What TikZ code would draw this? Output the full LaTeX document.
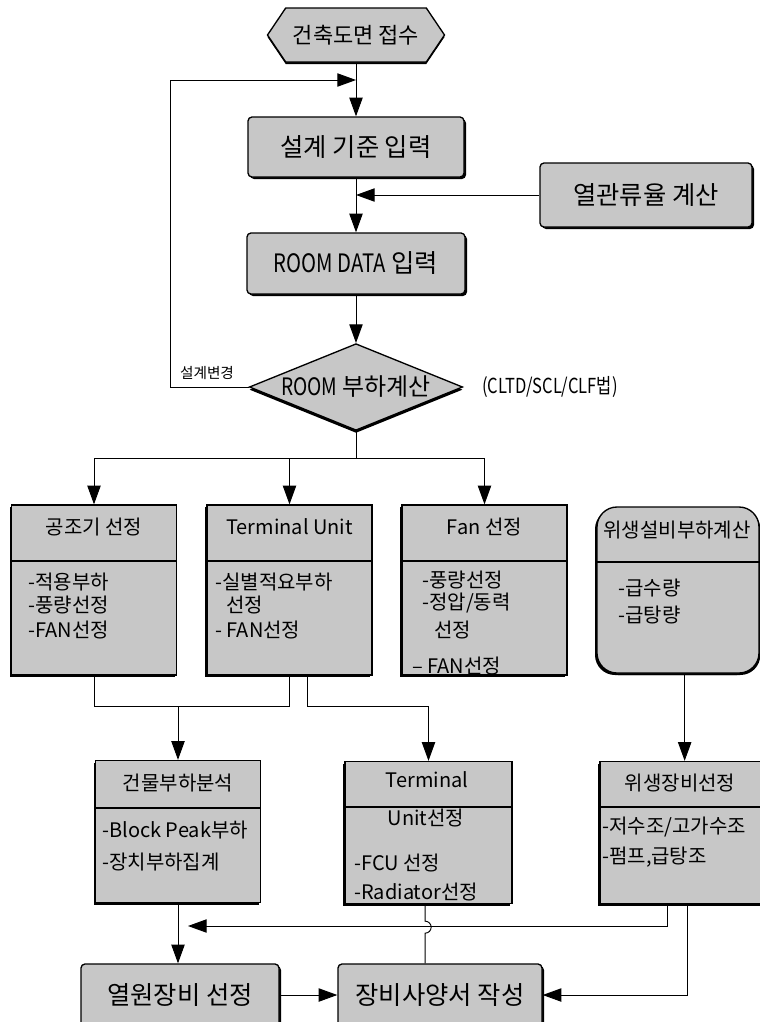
\documentclass[tikz,border=0pt]{standalone}
\usepackage{fontspec}
\setmainfont{Noto Sans CJK KR}
\newfontfamily\narrowfont[FakeStretch=0.8]{Noto Sans CJK KR}
\usetikzlibrary{arrows.meta,shapes.geometric,shapes.symbols,shadows}
\definecolor{dotgray}{gray}{0.78}
\tikzset{
  every node/.style={inner sep=0pt},
  flowbox/.style={draw, line width=1pt, fill=dotgray, rounded corners=3pt,
    font=\fontsize{19}{21}\selectfont,
    drop shadow={shadow xshift=1.5pt, shadow yshift=-1.5pt, opacity=1, fill=black}},
  tablebox/.style={draw, line width=1pt, fill=dotgray,
    minimum width=123.75pt, minimum height=127.5pt,
    drop shadow={shadow xshift=-1.5pt, shadow yshift=-1.5pt, opacity=1, fill=black}},
  lowbox/.style={tablebox, minimum height=106.5pt},
  hexbox/.style={shape=signal, signal to=west and east, signal pointer angle=112,
    draw, line width=1pt, fill=dotgray, minimum width=132.75pt, minimum height=40.5pt,
    font=\fontsize{16.5}{18}\selectfont,
    drop shadow={shadow xshift=0pt, shadow yshift=-1.5pt, opacity=1, fill=black}},
  loadbox/.style={shape=diamond, draw, line width=1pt, fill=dotgray,
    minimum width=160pt, minimum height=65pt, font=\fontsize{18}{20}\selectfont,
    drop shadow={shadow xshift=0pt, shadow yshift=-2pt, opacity=1, fill=black}},
  headtext/.style={font=\fontsize{15}{18}\selectfont},
  itemtext/.style={anchor=west, font=\fontsize{15}{18}\selectfont},
  divline/.style={line width=1.5pt},
  link/.style={line width=0.7pt},
  arr/.style={link, -{Triangle[length=14pt,width=10pt]}},
}
\begin{document}
\begin{tikzpicture}[x=0.75pt,y=-0.75pt]
\useasboundingbox (0,0) rectangle (760,1022);

% input chain
\node[hexbox] (recv) at (356,35) {건축도면 접수};
\node[flowbox, minimum width=162pt, minimum height=45pt] (crit) at (356,147) {설계 기준 입력};
\node[flowbox, minimum width=159pt, minimum height=48pt] (uval) at (646,195) {열관류율 계산};
\node[flowbox, minimum width=163.5pt, minimum height=45.75pt] (rdata) at (356,263.5) {{\narrowfont ROOM DATA} 입력};
\node[loadbox] (load) at (356,387) {\makebox[0pt]{{\narrowfont ROOM} 부하계산}};
\node[font=\fontsize{11}{13}\selectfont] (chg) at (207,373) {설계변경};
\node[font=\fontsize{15.5}{17}\narrowfont] (meth) at (550,387) {(CLTD/SCL/CLF법)};

\coordinate (loopc) at (170,80);
\draw[arr] (recv.south) -- (crit.north);
\draw[arr] (crit.south) -- (rdata.north);
\draw[arr] (rdata.south) -- (load.north);
\draw[arr] (uval.west) -- (uval.west -| crit.south);
\draw[arr] (load.west) -| (loopc) -- (loopc -| crit.north);

% selection boxes
\node[tablebox] (ahu) at (94,590) {};
\node[tablebox] (tu) at (289.5,590) {};
\node[tablebox] (fan) at (484.5,590) {};
\node[tablebox, rounded corners=15pt, minimum width=121.5pt, minimum height=124.5pt,
  drop shadow={shadow xshift=1pt, shadow yshift=-1.5pt, opacity=1, fill=black}] (san) at (678,590) {};

\coordinate (fork) at (0,458);
\draw[link] (load.south) -- (load.south |- fork);
\draw[link] (fork -| ahu.north) -- (fork -| fan.north);
\foreach \b in {ahu,tu,fan}
  \draw[arr] (fork -| \b.north) -- (\b.north);

\node[headtext] (ahuh) at (94,527) {공조기 선정};
\node[headtext] (tuh) at (289.5,527) {Terminal Unit};
\node[headtext] (fanh) at (484.5,527) {Fan 선정};
\node[headtext] (sanh) at (677,530) {위생설비부하계산};

\node[itemtext] (ahu1) at (28,582) {-적용부하};
\node[itemtext] (ahu2) at (28,605) {-풍량선정};
\node[itemtext] (ahu3) at (28,630) {-FAN선정};
\node[itemtext] (tu1) at (215,582) {-실별적요부하};
\node[itemtext] (tu2) at (226,605) {선정};
\node[itemtext] (tu3) at (215,630) {- FAN선정};
\node[itemtext] (fan1) at (422,580) {-풍량선정};
\node[itemtext] (fan2) at (422,603) {-정압/동력};
\node[itemtext] (fan3) at (434,630) {선정};
\begin{scope}
\clip (fan.north west) rectangle (fan.south east);
\node[itemtext] (fan4) at (412,666) {– FAN선정};
\end{scope}
\node[itemtext] (san1) at (618,588) {-급수량};
\node[itemtext] (san2) at (618,615) {-급탕량};

\foreach \b in {ahu,tu,fan}
  \draw[divline] ([yshift=-42.75pt]\b.north west) -- ([yshift=-42.75pt]\b.north east);
\draw[divline] ([yshift=-42pt]san.north west) -- ([yshift=-42pt]san.north east);

% second row
\node[lowbox] (bldg) at (178,831.5) {};
\node[lowbox, minimum width=125.25pt] (tus) at (428.5,832.5) {};
\node[lowbox, minimum width=121.5pt] (sane) at (681,832.5) {};

\coordinate (fork2) at (0,706);
\draw[link] (ahu.south) -- (ahu.south |- fork2) -| (tu.south);
\draw[arr] (bldg.north |- fork2) -- (bldg.north);
\draw[arr] ([xshift=13.5pt]tu.south) |- (fork2 -| tus.north) -- (tus.north);
\draw[arr] ([xshift=5pt]san.south) -- ([xshift=5pt]san.south |- sane.north);

\node[headtext] (bldgh) at (178,783) {건물부하분석};
\node[headtext] (tush) at (427,780) {Terminal};
\node[headtext] (tusu) at (426,818) {Unit선정};
\node[headtext] (saneh) at (680,783) {위생장비선정};

\node[itemtext] (bldg1) at (102,830) {-Block Peak부하};
\node[itemtext] (bldg2) at (102,862) {-장치부하집계};
\node[itemtext] (tus1) at (354,863) {-FCU 선정};
\node[itemtext] (tus2) at (354,892) {-Radiator선정};
\node[itemtext] (sane1) at (602,827) {-저수조/고가수조};
\node[itemtext] (sane2) at (602,857) {-펌프,급탕조};

\draw[divline] ([yshift=-36pt]bldg.north west) -- ([yshift=-36pt]bldg.north east);
\draw[divline] ([yshift=-34.5pt]tus.north west) -- ([yshift=-34.5pt]tus.north east);
\draw[divline] ([yshift=-34.5pt]sane.north west) -- ([yshift=-34.5pt]sane.north east);

% output boxes
\node[flowbox, minimum width=148.5pt, minimum height=46.5pt] (heat) at (180,995) {열원장비 선정};
\node[flowbox, minimum width=153pt, minimum height=46.5pt] (spec) at (440,995) {장비사양서 작성};

\coordinate (fork3) at (0,926);
\draw[arr] (bldg.south) -- (bldg.south |- heat.north);
\draw[arr] ([xshift=-10.5pt]sane.south) |- ([xshift=7.5pt]bldg.south |- fork3);
\draw[link] ([xshift=-2.5pt]tus.south) -- ++(0,17) arc[start angle=90, end angle=-90, radius=4.5pt]
  -- ([xshift=-2.5pt]tus.south |- spec.north);
\draw[arr] ([xshift=4.5pt]sane.south) |- (spec.east);
\draw[arr] (heat.east) -- (spec.west);
\end{tikzpicture}
\end{document}
